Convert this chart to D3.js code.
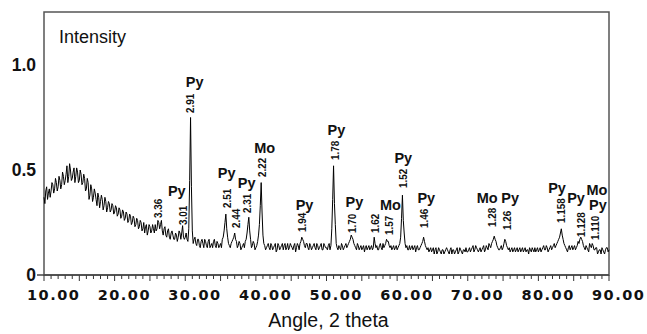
<!DOCTYPE html>
<html>
<head>
<meta charset="utf-8">
<script src="https://cdn.jsdelivr.net/npm/d3@7"></script>
<style>
  html, body { margin: 0; padding: 0; background: #fff; }
  svg { display: block; }
</style>
</head>
<body>
<svg id="chart" width="647" height="334"></svg>
<script>
// ---------- DATA ----------
// Scan: readings every 0.25 degrees (scanNN, starting at NN.00) and the
// in-between readings (midNN, starting at NN.125), one array per 10-degree block
const scanStep = 0.25;
const scan10 = [0.37,0.40,0.36,0.41,0.40,0.43,0.41,0.44,0.42,0.45,0.43,0.47,0.45,0.52,0.47,0.50,0.46,0.51,0.47,0.49,
                0.45,0.48,0.44,0.46,0.41,0.44,0.38,0.41,0.37,0.39,0.33,0.37,0.35,0.36,0.33,0.35,0.32,0.34,0.31,0.33];
const mid10  = [0.34,0.42,0.39,0.37,0.44,0.39,0.46,0.40,0.47,0.41,0.49,0.43,0.48,0.44,0.53,0.45,0.49,0.44,0.51,0.44,
                0.50,0.43,0.48,0.40,0.46,0.36,0.43,0.35,0.41,0.36,0.39,0.32,0.38,0.31,0.37,0.30,0.35,0.30,0.34,0.29];
const scan20 = [0.30,0.32,0.29,0.31,0.28,0.30,0.27,0.29,0.26,0.28,0.25,0.27,0.24,0.26,0.23,0.25,0.22,0.20,0.24,0.21,
                0.23,0.21,0.22,0.24,0.22,0.25,0.24,0.21,0.22,0.19,0.21,0.18,0.20,0.19,0.17,0.19,0.18,0.20,0.20,0.18];
const mid20  = [0.33,0.28,0.32,0.27,0.31,0.26,0.30,0.25,0.29,0.24,0.28,0.23,0.27,0.22,0.26,0.21,0.25,0.23,0.19,0.24,
                0.20,0.24,0.20,0.21,0.26,0.22,0.26,0.19,0.23,0.18,0.22,0.17,0.21,0.17,0.20,0.16,0.21,0.17,0.235,0.17];
const scan30 = [0.18,0.17,0.22,0.75,0.21,0.17,0.15,0.17,0.14,0.16,0.15,0.17,0.14,0.16,0.13,0.15,0.16,0.14,0.16,0.13,
                0.15,0.17,0.21,0.29,0.18,0.14,0.15,0.17,0.20,0.16,0.14,0.15,0.13,0.15,0.16,0.20,0.275,0.17,0.14,0.15];
const mid30  = [0.20,0.16,0.45,0.42,0.15,0.18,0.14,0.17,0.13,0.17,0.13,0.16,0.13,0.17,0.14,0.13,0.17,0.13,0.15,0.14,
                0.13,0.18,0.25,0.22,0.15,0.13,0.16,0.18,0.17,0.13,0.16,0.12,0.14,0.13,0.17,0.24,0.21,0.13,0.16,0.12];
const scan40 = [0.13,0.16,0.24,0.44,0.19,0.14,0.13,0.15,0.12,0.14,0.13,0.15,0.12,0.14,0.13,0.15,0.14,0.12,0.15,0.13,
                0.14,0.12,0.15,0.13,0.14,0.15,0.18,0.16,0.13,0.15,0.12,0.14,0.13,0.15,0.12,0.14,0.13,0.15,0.12,0.14];
const mid40  = [0.14,0.19,0.33,0.30,0.15,0.12,0.14,0.13,0.15,0.12,0.14,0.11,0.15,0.12,0.14,0.12,0.15,0.13,0.12,0.15,
                0.13,0.14,0.11,0.15,0.12,0.16,0.17,0.14,0.15,0.13,0.15,0.12,0.14,0.13,0.15,0.12,0.14,0.12,0.15,0.13];
const scan50 = [0.13,0.14,0.12,0.22,0.52,0.24,0.13,0.14,0.12,0.14,0.13,0.15,0.14,0.16,0.19,0.17,0.14,0.12,0.14,0.13,
                0.12,0.14,0.13,0.12,0.14,0.13,0.12,0.18,0.13,0.12,0.14,0.13,0.15,0.14,0.17,0.16,0.13,0.12,0.14,0.13];
const mid50  = [0.12,0.15,0.14,0.36,0.34,0.15,0.12,0.13,0.15,0.12,0.14,0.13,0.15,0.17,0.18,0.15,0.13,0.15,0.12,0.14,
                0.13,0.11,0.14,0.13,0.12,0.14,0.13,0.15,0.14,0.12,0.15,0.12,0.13,0.15,0.16,0.14,0.14,0.13,0.12,0.14];
const scan60 = [0.12,0.14,0.18,0.38,0.20,0.13,0.12,0.14,0.13,0.12,0.14,0.13,0.12,0.13,0.15,0.18,0.14,0.12,0.11,0.13,
                0.12,0.10,0.13,0.11,0.12,0.10,0.12,0.11,0.13,0.11,0.12,0.10,0.12,0.11,0.13,0.11,0.12,0.10,0.12,0.13];
const mid60  = [0.13,0.15,0.27,0.26,0.15,0.14,0.12,0.12,0.14,0.13,0.11,0.14,0.12,0.14,0.16,0.16,0.13,0.13,0.12,0.11,
                0.13,0.12,0.10,0.13,0.11,0.12,0.10,0.12,0.12,0.10,0.13,0.12,0.10,0.12,0.10,0.13,0.11,0.12,0.11,0.11];
const scan70 = [0.11,0.13,0.12,0.14,0.12,0.13,0.11,0.13,0.12,0.14,0.12,0.13,0.15,0.13,0.16,0.185,0.16,0.13,0.12,0.14,
                0.13,0.17,0.14,0.12,0.11,0.13,0.12,0.11,0.13,0.12,0.11,0.13,0.12,0.11,0.12,0.13,0.11,0.12,0.13,0.12];
const mid70  = [0.12,0.11,0.13,0.11,0.14,0.12,0.12,0.11,0.13,0.11,0.14,0.12,0.14,0.15,0.17,0.17,0.14,0.12,0.13,0.12,
                0.15,0.16,0.13,0.13,0.12,0.11,0.13,0.12,0.11,0.13,0.12,0.11,0.13,0.12,0.10,0.12,0.13,0.11,0.11,0.13];
const scan80 = [0.11,0.13,0.12,0.14,0.12,0.13,0.12,0.14,0.13,0.15,0.14,0.16,0.18,0.22,0.17,0.14,0.12,0.13,0.12,0.14,
                0.13,0.12,0.14,0.15,0.18,0.16,0.13,0.14,0.12,0.15,0.13,0.14,0.12,0.13,0.11,0.12,0.13,0.11,0.12,0.13,0.12];
const mid80  = [0.12,0.11,0.13,0.12,0.14,0.11,0.13,0.12,0.14,0.13,0.15,0.17,0.20,0.19,0.15,0.13,0.11,0.14,0.13,0.12,
                0.14,0.13,0.16,0.17,0.17,0.14,0.12,0.13,0.11,0.14,0.15,0.12,0.13,0.10,0.12,0.10,0.12,0.10,0.13,0.11];
const scanStarts = [10, 20, 30, 40, 50, 60, 70, 80];

// d-spacing labels: text, angle, intensity level of the text's lower end
const dTexts  = ["3.36","3.01","2.91","2.51","2.44","2.31","2.22","1.94","1.78","1.70","1.62","1.57","1.52","1.46","1.28","1.26","1.158","1.128","1.110"];
const dAngles = [26.11, 29.65, 30.64, 35.87, 37.14, 38.83, 40.95, 46.61, 51.27, 53.67, 56.93, 58.90, 60.88, 63.85, 73.46, 75.58, 83.22, 86.04, 88.02];
const dLevels = [0.271, 0.238, 0.771, 0.319, 0.224, 0.295, 0.467, 0.205, 0.548, 0.200, 0.200, 0.190, 0.414, 0.224, 0.229, 0.214, 0.248, 0.181, 0.167];

// phase labels: name, angle, intensity level of the baseline
const phaseNames  = ["Py","Py","Py","Py","Mo","Py","Py","Py","Mo","Py","Py","Mo","Py","Py","Py","Mo","Py"];
const phaseAngles = [28.80,31.34,35.87,38.69,41.24,46.89,51.41,53.96,59.05,60.88,64.13,72.76,76.01,82.65,85.34,88.30,88.44];
const phaseLevels = [0.376,0.895,0.462,0.414,0.581,0.310,0.667,0.324,0.310,0.533,0.343,0.343,0.343,0.390,0.343,0.381,0.310];

const xTickValues = [10,20,30,40,50,60,70,80,90];
const xTickLabels = ["10.00","20.00","30.00","40.00","50.00","60.00","70.00","80.00","90.00"];
const yTickValues = [0, 0.5, 1.0];
const yTickLabels = ["0","0.5","1.0"];
const yLabel = "Intensity";
const xLabel = "Angle, 2 theta";

// ---------- BUILD SERIES ----------
const scanBlocks = [scan10, scan20, scan30, scan40, scan50, scan60, scan70, scan80];
const midBlocks  = [mid10, mid20, mid30, mid40, mid50, mid60, mid70, mid80];
let points = [];
scanBlocks.forEach((blk, b) => blk.forEach((v, i) => points.push([scanStarts[b] + i * scanStep, v])));
midBlocks.forEach((blk, b) => blk.forEach((v, i) => points.push([scanStarts[b] + scanStep / 2 + i * scanStep, v])));
points.sort((a, b) => a[0] - b[0]);

// ---------- LAYOUT ----------
const svg = d3.select("#chart");
const plotL = 44, plotR = 609, plotT = 12, plotB = 275;
const x = d3.scaleLinear().domain([10, 90]).range([plotL, plotR]);
const y = d3.scaleLinear().domain([0, 1.0]).range([plotB, 65]);

// frame
svg.append("rect")
  .attr("x", plotL).attr("y", plotT)
  .attr("width", plotR - plotL).attr("height", plotB - plotT)
  .attr("fill", "none").attr("stroke", "#555").attr("stroke-width", 1.5);

// x axis ticks (minor every 1, longer every 5)
const tickG = svg.append("g");
d3.range(10, 90.001, 1).forEach(t => {
  const major = Math.round(t) % 5 === 0;
  tickG.append("line")
    .attr("x1", x(t)).attr("x2", x(t))
    .attr("y1", plotB).attr("y2", plotB + (major ? 6 : 4))
    .attr("stroke", "#333").attr("stroke-width", 1);
});
// axis line at 0 with small left tick
svg.append("line").attr("x1", plotL - 7).attr("x2", plotR).attr("y1", plotB).attr("y2", plotB)
  .attr("stroke", "#444").attr("stroke-width", 1.5);

// x tick labels
svg.append("g").selectAll("text").data(xTickValues).join("text")
  .attr("x", d => x(d) - 17).attr("y", 300)
  .attr("font-family", "'DejaVu Sans', Verdana, sans-serif")
  .attr("font-weight", "bold").attr("font-size", "14.5px")
  .attr("letter-spacing", "1.5px")
  .attr("fill", "#111")
  .text((d, i) => xTickLabels[i]);

// y tick labels
svg.append("g").selectAll("text").data(yTickValues).join("text")
  .attr("x", 36).attr("y", d => y(d)).attr("dy", "0.33em")
  .attr("text-anchor", "end")
  .attr("font-family", "'Liberation Sans', Arial, sans-serif")
  .attr("font-weight", "bold").attr("font-size", "17.5px")
  .attr("fill", "#111")
  .text((d, i) => yTickLabels[i]);

// axis titles
svg.append("text").attr("x", 59).attr("y", 43)
  .attr("font-family", "'Liberation Sans', Arial, sans-serif")
  .attr("font-size", "18px").attr("fill", "#111").text(yLabel);
svg.append("text").attr("x", 328.5).attr("y", 327).attr("text-anchor", "middle")
  .attr("font-family", "'Liberation Sans', Arial, sans-serif")
  .attr("font-size", "19.5px").attr("fill", "#111").text(xLabel);

// the scan
const line = d3.line().x(d => x(d[0])).y(d => y(d[1]));
svg.append("path").datum(points)
  .attr("d", line)
  .attr("fill", "none").attr("stroke", "#000").attr("stroke-width", 1)
  .attr("stroke-linejoin", "round");

// d-spacing labels (rotated)
svg.append("g").selectAll("text").data(dTexts).join("text")
  .attr("transform", (d, i) => `translate(${x(dAngles[i])},${y(dLevels[i])}) rotate(-90) scale(0.9,1)`)
  .attr("dy", "0.35em")
  .attr("font-family", "'Liberation Sans', Arial, sans-serif")
  .attr("font-weight", "bold").attr("font-size", "11px")
  .attr("fill", "#111")
  .text(d => d);

// phase labels
svg.append("g").selectAll("text").data(phaseNames).join("text")
  .attr("x", (d, i) => x(phaseAngles[i])).attr("y", (d, i) => y(phaseLevels[i]))
  .attr("text-anchor", "middle")
  .attr("font-family", "'Liberation Sans', Arial, sans-serif")
  .attr("font-weight", "bold").attr("font-size", "14.5px")
  .attr("fill", "#111")
  .text(d => d);
</script>
</body>
</html>
